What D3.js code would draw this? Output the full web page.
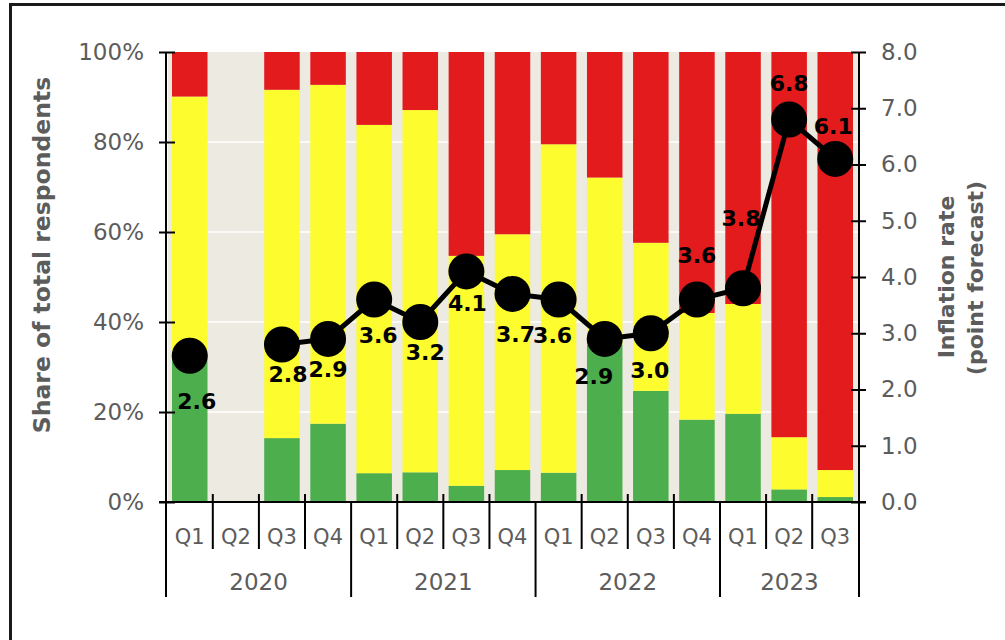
<!DOCTYPE html>
<html lang="en">
<head>
<meta charset="UTF-8">
<title>Inflation expectations</title>
<script src="https://d3js.org/d3.v7.min.js"></script>
<style>
  body { margin: 0; background: #fff; }
  svg text { font-family: "DejaVu Sans", sans-serif; }
</style>
</head>
<body>
<svg id="chart" width="1005" height="640"></svg>
<script>
// data
const quarters = ["Q1","Q2","Q3","Q4","Q1","Q2","Q3","Q4","Q1","Q2","Q3","Q4","Q1","Q2","Q3"];
const years = ["2020","2021","2022","2023"];
const yearOf = [0,0,0,0,1,1,1,1,2,2,2,2,3,3,3];
// cumulative share tops (%): green, green+yellow; rest up to 100 is red
const greenShare = [33, null, 14.2, 17.4, 6.4, 6.6, 3.6, 7.1, 6.5, 35, 24.7, 18.3, 19.6, 2.8, 1.1];
const yellowTop = [90.1, null, 91.6, 92.7, 83.8, 87.1, 54.7, 59.5, 79.5, 72.1, 57.6, 42, 44, 14.4, 7.1];
const inflation = [2.6, null, 2.8, 2.9, 3.6, 3.2, 4.1, 3.7, 3.6, 2.9, 3.0, 3.6, 3.8, 6.8, 6.1];
const leftTicks = [0, 20, 40, 60, 80, 100];
const rightTicks = [0, 1, 2, 3, 4, 5, 6, 7, 8];

// label placement relative to each point (layout only)
const labelDx = [7, 0, 6, 0, 4, 5, 1, 3, -6, -11, -1, 0, -2, 0, -2];
const labelDy = [46, 0, 30, 31, 36, 30, 32, 41, 36, 38, 37, -44, -70, -36, -32];

const pLeft = 166, pRight = 859, pTop = 52, pBottom = 502;
const RED = "#E31B1C", YELLOW = "#FCFC2F", GREEN = "#4CAE4C", BG = "#EDEAE1", GREY = "#5c5c5c";

const svg = d3.select("#chart");

// outer frame
svg.append("rect").attr("x", 10.5).attr("y", 4.5).attr("width", 1100).attr("height", 700)
  .attr("fill", "none").attr("stroke", "#1a1a1a").attr("stroke-width", 3);

const idx = d3.range(quarters.length);
const x = d3.scaleBand().domain(idx).range([pLeft, pRight]).paddingInner(0.23).paddingOuter(0.13);
const y = d3.scaleLinear().domain([0, 100]).range([pBottom, pTop]);
const y2 = d3.scaleLinear().domain([0, 8]).range([pBottom, pTop]);
const gap = x.step() * x.paddingInner();

// plot background + grid
svg.append("rect").attr("x", pLeft + 2).attr("y", pTop).attr("width", pRight - pLeft - 2).attr("height", pBottom - pTop)
  .attr("fill", BG);
svg.append("g").selectAll("line").data(leftTicks.filter(d => d > 0 && d < 100)).join("line")
  .attr("x1", pLeft).attr("x2", pRight).attr("y1", d => y(d)).attr("y2", d => y(d))
  .attr("stroke", "#fff").attr("stroke-width", 1.5);

// stacked bars
const segs = [];
idx.forEach(i => {
  if (greenShare[i] == null) return;
  segs.push({i, y0: 0, y1: greenShare[i], c: GREEN});
  segs.push({i, y0: greenShare[i], y1: yellowTop[i], c: YELLOW});
  segs.push({i, y0: yellowTop[i], y1: 100, c: RED});
});
svg.append("g").selectAll("rect").data(segs).join("rect")
  .attr("x", d => x(d.i)).attr("width", x.bandwidth())
  .attr("y", d => y(d.y1)).attr("height", d => y(d.y0) - y(d.y1))
  .attr("fill", d => d.c);

// left axis
const axL = svg.append("g").attr("transform", `translate(${pLeft},0)`)
  .call(d3.axisLeft(y).tickValues(leftTicks).tickFormat(d => d + "%").tickSize(7).tickPadding(15));
axL.select(".domain").remove();
axL.selectAll(".tick line").attr("x1", -7).attr("x2", 9).attr("stroke", "#000").attr("stroke-width", 2);
axL.selectAll(".tick text").attr("font-size", 23).attr("fill", GREY).attr("font-family", "DejaVu Sans");

// right axis
const axR = svg.append("g").attr("transform", `translate(${pRight},0)`)
  .call(d3.axisRight(y2).tickValues(rightTicks).tickFormat(d3.format(".1f")).tickSize(7).tickPadding(15));
axR.select(".domain").remove();
axR.selectAll(".tick line").attr("x1", -8).attr("x2", 7).attr("stroke", "#000").attr("stroke-width", 2);
axR.selectAll(".tick text").attr("font-size", 23).attr("fill", GREY).attr("font-family", "DejaVu Sans");

// axis lines
const lines = svg.append("g").attr("stroke", "#000").attr("stroke-width", 2);
lines.append("line").attr("x1", pLeft).attr("x2", pLeft).attr("y1", pTop).attr("y2", 597);
lines.append("line").attr("x1", pRight).attr("x2", pRight).attr("y1", pTop).attr("y2", 597);
lines.append("line").attr("x1", pLeft - 7).attr("x2", pRight + 7).attr("y1", pBottom).attr("y2", pBottom);

// quarter separators and year separators
idx.slice(1).forEach(i => {
  const sx = x(i) - gap / 2;
  const isYear = yearOf[i] !== yearOf[i - 1];
  lines.append("line").attr("x1", sx).attr("x2", sx)
    .attr("y1", isYear ? pBottom : 494).attr("y2", isYear ? 597 : 549);
});

// quarter labels
svg.append("g").selectAll("text").data(idx).join("text")
  .attr("x", i => x(i) + x.bandwidth() / 2).attr("y", 537)
  .attr("text-anchor", "middle").attr("dominant-baseline", "central")
  .attr("font-size", 21).attr("fill", GREY).text(i => quarters[i]);

// year labels
svg.append("g").selectAll("text").data(years).join("text")
  .attr("x", (d, k) => {
    const members = idx.filter(i => yearOf[i] === k);
    const x0 = k === 0 ? pLeft : x(members[0]) - gap / 2;
    const x1 = k === years.length - 1 ? pRight : x(members[members.length - 1]) + x.bandwidth() + gap / 2;
    return (x0 + x1) / 2;
  })
  .attr("y", 582).attr("text-anchor", "middle").attr("dominant-baseline", "central")
  .attr("font-size", 23).attr("fill", GREY).text(d => d);

// inflation line
const cx = i => x(i) + x.bandwidth() / 2;
const line = d3.line().defined(d => d != null).x((d, i) => cx(i)).y(d => y2(d));
svg.append("path").datum(inflation).attr("d", line)
  .attr("fill", "none").attr("stroke", "#000").attr("stroke-width", 5);
const pts = idx.filter(i => inflation[i] != null);
svg.append("g").selectAll("circle").data(pts).join("circle")
  .attr("cx", cx).attr("cy", i => y2(inflation[i])).attr("r", 18).attr("fill", "#000");
svg.append("g").selectAll("text").data(pts).join("text")
  .attr("x", i => cx(i) + labelDx[i]).attr("y", i => y2(inflation[i]) + labelDy[i])
  .attr("text-anchor", "middle").attr("dominant-baseline", "central")
  .attr("font-size", 22).attr("font-weight", "bold").attr("fill", "#000")
  .text(i => inflation[i].toFixed(1));

// axis titles
svg.append("text").attr("transform", "translate(42,255) rotate(-90)")
  .attr("text-anchor", "middle").attr("dominant-baseline", "central")
  .attr("font-size", 23.5).attr("font-weight", "bold").attr("fill", GREY)
  .text("Share of total respondents");
svg.append("text").attr("transform", "translate(946,277) rotate(-90)")
  .attr("text-anchor", "middle").attr("dominant-baseline", "central")
  .attr("font-size", 22).attr("font-weight", "bold").attr("fill", GREY)
  .text("Inflation rate");
svg.append("text").attr("transform", "translate(975,278) rotate(-90)")
  .attr("text-anchor", "middle").attr("dominant-baseline", "central")
  .attr("font-size", 22).attr("font-weight", "bold").attr("fill", GREY)
  .text("(point forecast)");
</script>
</body>
</html>
